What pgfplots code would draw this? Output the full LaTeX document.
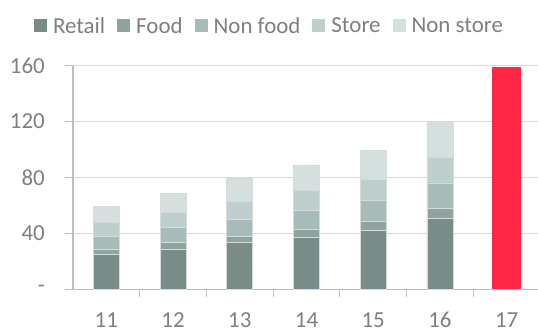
\documentclass[border=0pt]{standalone}
\usepackage{pgfplots}
\pgfplotsset{compat=1.18}
\usepackage{fontspec}
\setmainfont{Carlito}
\definecolor{cRetail}{HTML}{7A8C88}
\definecolor{cFood}{HTML}{8FA39F}
\definecolor{cNonfood}{HTML}{A7BBB8}
\definecolor{cStore}{HTML}{BFCFCD}
\definecolor{cNonstore}{HTML}{D5DFDD}
\definecolor{cRed}{HTML}{FF2646}
\definecolor{cText}{HTML}{7F7F7F}
\definecolor{cGrid}{HTML}{D9D9D9}
\definecolor{cAxis}{HTML}{BFBFBF}
\definecolor{cEdge}{HTML}{D3DCDA}
\begin{document}
\begin{tikzpicture}
\begin{axis}[
  at={(0,0)}, anchor=south west,
  scale only axis, width=467bp, height=223.6bp,
  ybar stacked, bar width=26bp,
  xmin=10.5, xmax=17.5, ymin=0, ymax=160,
  axis lines*=left,
  axis line style={cAxis, line width=1.2bp},
  ytick={0,40,80,120,160},
  yticklabels={-\hspace{12bp},40,80,120,160},
  ymajorgrids, grid style={cGrid, line width=1.2bp},
  xtick={11.5,12.5,...,16.5}, xticklabels={},
  extra x ticks={11,12,13,14,15,16,17},
  extra x tick labels={11,12,13,14,15,16,17},
  extra x tick style={tick style={draw=none}, grid=none},
  tick align=outside, major tick length=8bp,
  tick style={cAxis, line width=1.2bp},
  /pgf/number format/assume math mode=true,
  yticklabel style={font=\fontsize{23}{27}\selectfont, text=cText, inner sep=0pt, anchor=east, xshift=-20bp},
  xticklabel style={font=\fontsize{23}{27}\selectfont, text=cText, inner sep=0pt, anchor=north, yshift=-15bp},
  legend columns=-1,
  legend image code/.code={\fill[#1,draw=none] (0bp,-6.5bp) rectangle (13bp,6.5bp);},
  legend style={at={(-0.0835,1.1776)}, anchor=west, draw=none, fill=none,
    inner sep=0pt, outer sep=0pt, font=\fontsize{23}{27}\selectfont, text=cText,
    nodes={inner sep=0pt},
    /tikz/every odd column/.append style={column sep=6bp},
    /tikz/every even column/.append style={column sep=12bp}},
]
\addplot[fill=cRetail, draw=cEdge, line width=0.8bp] coordinates {(11,24.7) (12,28.6) (13,33.3) (14,37.1) (15,41.9) (16,50.7) (17,0)};
\addplot[fill=cFood, draw=cEdge, line width=0.8bp] coordinates {(11,3.9) (12,4.7) (13,4.3) (14,5.5) (15,6.4) (16,7.2) (17,0)};
\addplot[fill=cNonfood, draw=cEdge, line width=0.8bp] coordinates {(11,9.5) (12,11.0) (13,12.6) (14,14.0) (15,15.3) (16,18.2) (17,0)};
\addplot[fill=cStore, draw=cEdge, line width=0.8bp] coordinates {(11,10.0) (12,10.9) (13,12.4) (14,14.1) (15,15.2) (16,18.2) (17,0)};
\addplot[fill=cNonstore, draw=cEdge, line width=0.8bp] coordinates {(11,11.4) (12,13.4) (13,16.6) (14,18.1) (15,20.7) (16,25.9) (17,0)};
\addplot[fill=cRed, draw=none, /pgf/bar width=29bp] coordinates {(11,0) (12,0) (13,0) (14,0) (15,0) (16,0) (17,159)};
\legend{Retail,Food,Non food,Store,Non store}
\end{axis}
\pgfresetboundingbox
\path[use as bounding box] (-73bp,-42.7bp) rectangle (465bp,289.3bp);
\end{tikzpicture}
\end{document}
